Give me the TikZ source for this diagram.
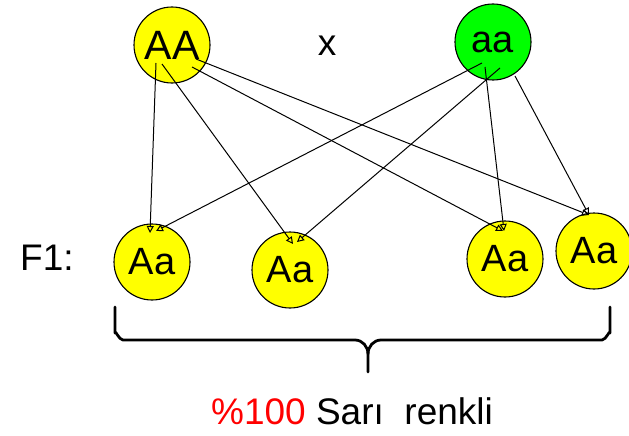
\documentclass[tikz,border=0pt]{standalone}
\usepackage{fontspec}
\setmainfont{Liberation Sans}
\usetikzlibrary{arrows.meta}
\definecolor{genyellow}{RGB}{255,255,0}
\definecolor{gengreen}{RGB}{0,255,0}
\definecolor{genred}{RGB}{255,0,0}
\begin{document}
\begin{tikzpicture}[x=1pt,y=-1pt,
  allele/.style={circle,draw=black,line width=1.1pt,minimum size=76pt,inner sep=0pt,
    font=\fontsize{38}{38}\selectfont},
  dominant/.style={allele,fill=genyellow},
  recessive/.style={allele,fill=gengreen},
  cross/.style={line width=1pt,-{Triangle[open,length=7pt,width=7pt]}},
  label/.style={inner sep=0pt,font=\fontsize{37}{37}\selectfont},
  brace/.style={line width=2.8pt,line cap=round,line join=round}]
\useasboundingbox (0,0) rectangle (629,436);

% parents
\node[dominant,font=\fontsize{41}{41}\selectfont] (AA) at (172,45) {AA};
\node[recessive] (aa) at (493,42) {\raisebox{-3pt}{aa}};
\node[label,anchor=base] (x) at (327,56) {x};

% offspring
\node[label,anchor=base west] (F1) at (20,270) {F1:};
\node[dominant] (o1) at (152,262) {\raisebox{2pt}{Aa}};
\node[dominant] (o2) at (290,270) {Aa};
\node[dominant] (o3) at (505,259) {Aa};
\node[dominant] (o4) at (594,251) {Aa};

% gametes from AA
\draw[cross] ([shift={(-16,18)}]AA.center) -- ([shift={(-2,-29)}]o1.center);
\draw[cross] ([shift={(-10,19)}]AA.center) -- ([shift={(3,-26)}]o2.center);
\draw[cross] ([shift={(20,22)}]AA.center) -- ([shift={(-2,-28)}]o3.center);
\draw[cross] ([shift={(24,14)}]AA.center) -- ([shift={(-5,-36)}]o4.center);

% gametes from aa
\draw[cross] ([shift={(-11,21)}]aa.center) -- ([shift={(4,-31)}]o1.center);
\draw[cross] ([shift={(7,26)}]aa.center) -- ([shift={(7,-28)}]o2.center);
\draw[cross] ([shift={(-8,25)}]aa.center) -- ([shift={(-1,-28)}]o3.center);
\draw[cross] ([shift={(22,34)}]aa.center) -- ([shift={(-5,-36)}]o4.center);

% brace under the offspring
\coordinate (bl) at (115,307);
\coordinate (br) at (610,307);
\coordinate (bt) at (368,372);
\draw[brace] (bl) -- (115,333) to[out=90,in=180] (123,340) -- (355,340)
  to[out=0,in=90] (368,354) -- (bt);
\draw[brace] (br) -- (610,333) to[out=90,in=0] (602,340) -- (381,340)
  to[out=180,in=90] (368,354);

% result
\node[label,anchor=base] (res) at (352,424) {\textcolor{genred}{\%100} Sarı\ \ renkli};
\end{tikzpicture}
\end{document}
